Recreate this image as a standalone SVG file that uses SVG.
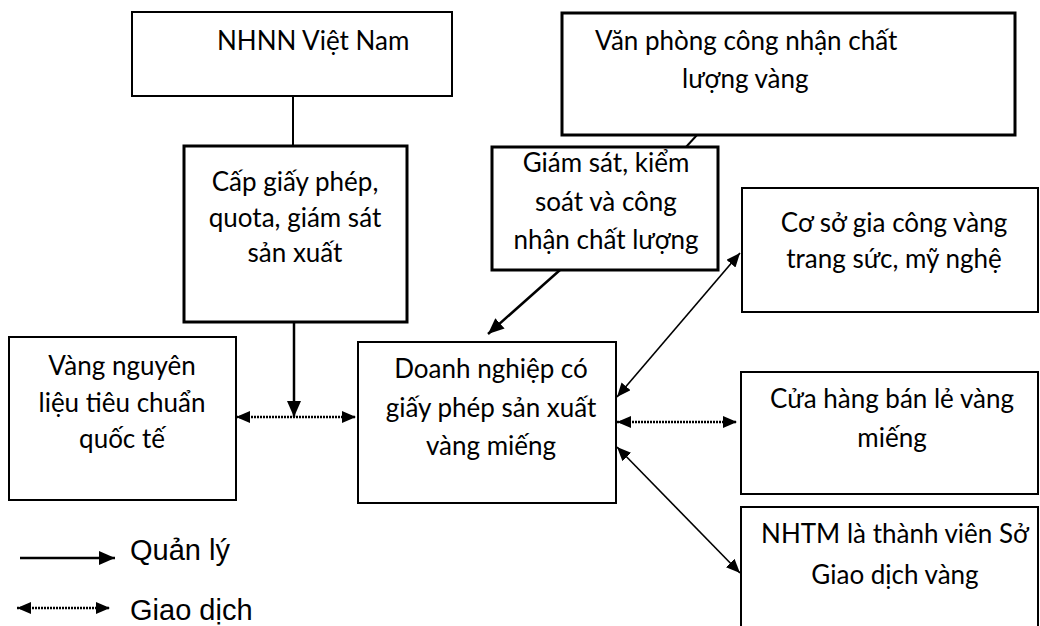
<svg xmlns="http://www.w3.org/2000/svg" width="1040" height="626" viewBox="0 0 1040 626">
<style>
.box{fill:#fff;stroke:#000;stroke-width:2}
.thick{stroke-width:3}
.t{font-family:Lato,'Noto Sans',sans-serif;font-size:26px;fill:#000;text-anchor:middle}
.ts{text-anchor:start}
.lg{font-family:'Liberation Sans',Arial,sans-serif;font-size:29px;fill:#000}
.plain{stroke:#000;stroke-width:2;fill:none}
.mgmt{stroke:#000;stroke-width:2.5;fill:none}
.trade{stroke:#000;stroke-width:2.4;stroke-dasharray:2 1;fill:none}
.diag{stroke:#000;stroke-width:1.6;fill:none}
</style>
<defs>
<marker id="ah" viewBox="0 0 16 14" refX="16" refY="7" markerWidth="16" markerHeight="14" markerUnits="userSpaceOnUse" orient="auto-start-reverse">
<path d="M0,0 L16,7 L0,14 z" fill="#000"/>
</marker>
<marker id="ahs" viewBox="0 0 14 12" refX="14" refY="6" markerWidth="14" markerHeight="12" markerUnits="userSpaceOnUse" orient="auto-start-reverse">
<path d="M0,0 L14,6 L0,12 z" fill="#000"/>
</marker>
</defs>

<g id="node-nhnn">
<rect class="box" x="132" y="12" width="320" height="84"/>
<text class="t ts" x="217" y="50">NHNN Việt Nam</text>
</g>

<g id="node-capphep">
<rect class="box thick" x="184" y="146" width="223" height="176"/>
<text class="t" x="295" y="191">Cấp giấy phép,</text>
<text class="t" x="295" y="227">quota, giám sát</text>
<text class="t" x="295" y="262">sản xuất</text>
</g>

<g id="node-vanphong">
<rect class="box thick" x="562" y="13" width="453" height="122"/>
<text class="t ts" x="595" y="50">Văn phòng công nhận chất</text>
<text class="t ts" x="682" y="88">lượng vàng</text>
</g>

<g id="node-giamsat">
<rect class="box thick" x="492" y="147" width="226" height="123"/>
<text class="t" x="606" y="172">Giám sát, kiểm</text>
<text class="t" x="606" y="211">soát và công</text>
<text class="t" x="606" y="249">nhận chất lượng</text>
</g>

<g id="node-vangnl">
<rect class="box" x="9" y="337" width="227" height="163"/>
<text class="t" x="122" y="375">Vàng nguyên</text>
<text class="t" x="122" y="412">liệu tiêu chuẩn</text>
<text class="t" x="122" y="448">quốc tế</text>
</g>

<g id="node-doanhnghiep">
<rect class="box" x="358" y="342" width="258" height="161"/>
<text class="t" x="491" y="378">Doanh nghiệp có</text>
<text class="t" x="491" y="417">giấy phép sản xuất</text>
<text class="t" x="491" y="455">vàng miếng</text>
</g>

<g id="node-coso">
<rect class="box" x="742" y="188" width="296" height="124"/>
<text class="t" x="894" y="232">Cơ sở gia công vàng</text>
<text class="t" x="894" y="268">trang sức, mỹ nghệ</text>
</g>

<g id="node-cuahang">
<rect class="box" x="741" y="372" width="297" height="122"/>
<text class="t" x="892" y="408">Cửa hàng bán lẻ vàng</text>
<text class="t" x="892" y="447">miếng</text>
</g>

<g id="node-nhtm">
<rect class="box" x="741" y="507" width="297" height="130"/>
<text class="t" x="895" y="543">NHTM là thành viên Sở</text>
<text class="t" x="895" y="584">Giao dịch vàng</text>
</g>

<g id="connectors">
<line class="plain" x1="293" y1="96" x2="293" y2="146"/>
<line class="plain" x1="697" y1="135" x2="686" y2="147"/>
<line class="mgmt" x1="294" y1="322" x2="294" y2="417" marker-end="url(#ah)"/>
<line class="mgmt" x1="560" y1="270" x2="488" y2="334" marker-end="url(#ah)"/>
<line class="trade" x1="236" y1="417" x2="356" y2="417" marker-start="url(#ahs)" marker-end="url(#ahs)"/>
<line class="trade" x1="617" y1="422" x2="737" y2="422" marker-start="url(#ahs)" marker-end="url(#ahs)"/>
<line class="diag" x1="617" y1="397" x2="740" y2="253" marker-start="url(#ahs)" marker-end="url(#ahs)"/>
<line class="diag" x1="617" y1="447" x2="740" y2="573" marker-start="url(#ahs)" marker-end="url(#ahs)"/>
</g>

<g id="legend">
<line class="mgmt" x1="20" y1="558" x2="115" y2="558" marker-end="url(#ah)"/>
<text class="lg" x="130" y="560">Quản lý</text>
<line class="trade" x1="17" y1="608" x2="110" y2="608" marker-start="url(#ahs)" marker-end="url(#ahs)"/>
<text class="lg" x="130" y="620">Giao dịch</text>
</g>
</svg>
